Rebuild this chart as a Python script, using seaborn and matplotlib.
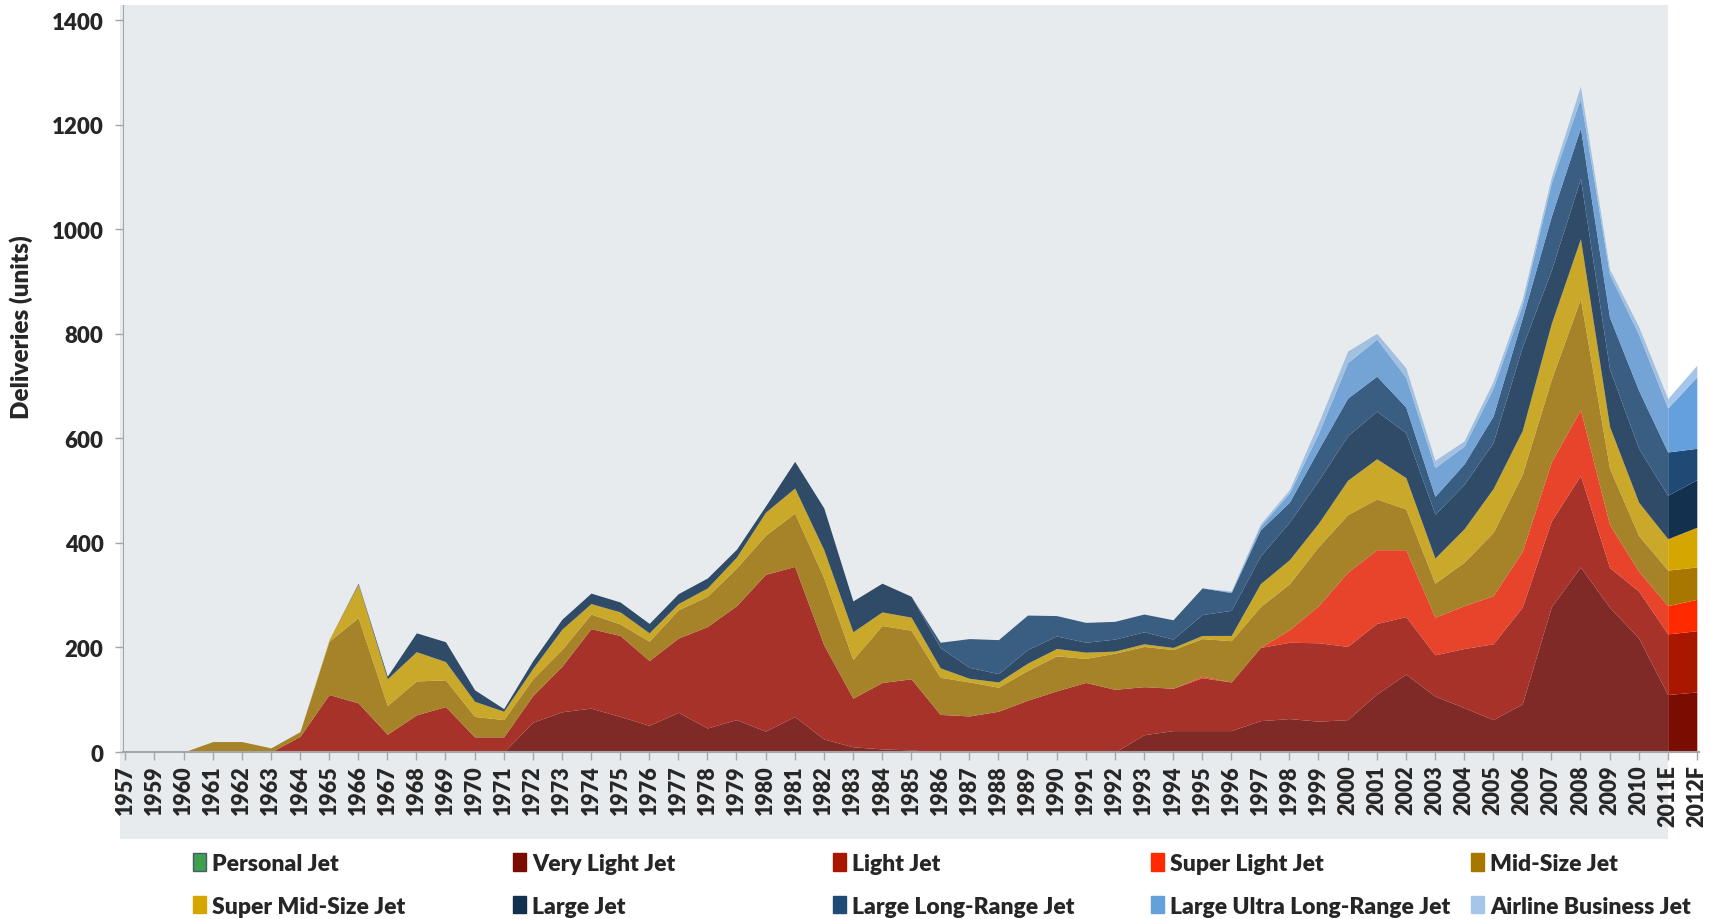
import numpy as np
import matplotlib
matplotlib.use("Agg")
import matplotlib.pyplot as plt
import matplotlib.transforms as mtransforms
from matplotlib.patches import Patch, Rectangle
import seaborn as sns

# --- Data (units delivered per year) ---
years = ["1957"] + [str(y) for y in range(1959, 2011)] + ["2011E", "2012F"]

personal = [0] * 55
very_light = ([0] * 14
              + [57, 77, 84, 68, 51, 76, 46, 62, 40, 68, 25, 10, 6, 4]
              + [0] * 7
              + [33, 41, 41, 41, 60, 64, 59, 62, 111, 149, 107, 85, 62, 92, 278, 354, 277, 218]
              + [110, 115])
light = ([0] * 6
         + [30, 110, 94, 34, 71, 87, 29, 29]
         + [51, 87, 152, 155, 124, 142, 194, 218, 300, 287, 180, 93, 127, 136]
         + [72, 69, 78, 99, 117, 133, 120]
         + [92, 81, 101, 93, 140, 146, 150, 140, 135, 110, 79, 113, 145, 185, 164, 175, 76, 90]
         + [116, 117])
super_light = ([0] * 37
               + [3, 0, 0, 24, 71, 142, 141, 128, 72, 82, 92, 107, 113, 126, 82, 38]
               + [54, 60])
mid_size = ([0, 0, 0]
            + [20, 20, 8, 9, 102, 163, 55, 65, 51, 39, 33]
            + [32, 32, 28, 22, 37, 54, 58, 72, 75, 102, 128, 74, 109, 93]
            + [71, 65, 46, 57, 67, 46, 69]
            + [77, 74, 72, 79, 78, 88, 113, 110, 97, 78, 65, 83, 121, 147, 158, 212, 108, 68]
            + [68, 62])
super_mid = ([0] * 7
             + [3, 64, 51, 56, 35, 29, 16]
             + [20, 39, 20, 23, 16, 12, 16, 21, 44, 48, 54, 53, 26, 25]
             + [18, 7, 10, 14, 14, 12, 4]
             + [5, 4, 6, 10, 44, 46, 45, 66, 77, 60, 48, 64, 84, 84, 107, 115, 80, 64]
             + [60, 76])
large = ([2, 2, 0, 0, 0, 0, 0, 0, 2, 5, 36, 38, 22, 5]
         + [15, 19, 20, 19, 18, 19, 19, 15, 12, 51, 80, 59, 55, 40]
         + [39, 21, 16, 26, 24, 19, 23]
         + [23, 16, 40, 48, 53, 72, 82, 85, 91, 86, 84, 85, 88, 160, 102, 115, 110, 103]
         + [83, 91])
long_range = ([0] * 28
              + [10, 55, 65, 66, 39, 38, 34]
              + [34, 37, 51, 34, 50, 38, 59, 72, 67, 49, 34, 39, 51, 55, 103, 97, 99, 111]
              + [83, 60])
ultra_long = ([0] * 38
              + [2, 7, 18, 31, 68, 71, 57, 55, 34, 53, 25, 64, 57, 82, 107]
              + [84, 137])
airline = ([0] * 38
           + [1, 4, 6, 20, 22, 11, 18, 14, 10, 13, 11, 11, 23, 10, 15]
           + [18, 22])

labels = ["Personal Jet", "Very Light Jet", "Light Jet", "Super Light Jet", "Mid-Size Jet",
          "Super Mid-Size Jet", "Large Jet", "Large Long-Range Jet",
          "Large Ultra Long-Range Jet", "Airline Business Jet"]
series = [personal, very_light, light, super_light, mid_size,
          super_mid, large, long_range, ultra_long, airline]

# muted tones for history, strong tones for the forecast years / legend
hist_colors = ["#3aa04a", "#7f2a27", "#a6322a", "#e8432b", "#a68228",
               "#c9a82a", "#2f4b68", "#3a5d82", "#73a4d5", "#a2c1e0"]
fcst_colors = ["#3ca04c", "#7a0c02", "#aa1700", "#ff2a00", "#a87700",
               "#d5a600", "#14304f", "#1f4a75", "#64a1dc", "#a5c5e9"]

# --- Style ---
sns.set_style("ticks")
plt.rcParams["font.family"] = ["Lato", "DejaVu Sans"]
W = "heavy"

fig = plt.figure(figsize=(17.11, 9.2), dpi=100)
ax = fig.add_axes([0.0719, 0.1815, 0.921, 0.8125])

x = np.arange(len(years))
n_hist = years.index("2011E") + 1

ax.stackplot(x[:n_hist], [s[:n_hist] for s in series], colors=hist_colors,
             linewidth=0, zorder=2)
ax.stackplot(x[n_hist - 1:], [s[n_hist - 1:] for s in series], colors=fcst_colors,
             linewidth=0, zorder=2)

x_left, x_right = -0.08, 54.07
ax.set_xlim(x_left, x_right)
ax.set_ylim(0, 1430)

# grey panel behind the history years, running down behind the tick labels
trans = mtransforms.blended_transform_factory(ax.transData, ax.transAxes)
ax.add_patch(Rectangle((x_left - 0.1, -0.117), (n_hist - 1) - x_left + 0.1, 1.117,
                       transform=trans, facecolor="#e8ebee", edgecolor="none",
                       zorder=0, clip_on=False))

ax.set_xticks(x)
ax.set_xticklabels(years, rotation=90, fontsize=15.5, fontweight=W)
ax.set_yticks(range(0, 1401, 200))
ax.set_yticklabels([str(v) for v in range(0, 1401, 200)], fontsize=16, fontweight=W)
ax.tick_params(axis="both", direction="out", color="#a6a6a6", length=6, width=1)
ax.tick_params(axis="x", pad=3)
ax.tick_params(axis="y", pad=8)

sns.despine(ax=ax)
ax.spines["left"].set_color("#a6a6a6")
ax.spines["bottom"].set_color("#a6a6a6")
ax.spines["bottom"].set_linewidth(1.5)

ax.set_ylabel("Deliveries (units)", fontsize=17.5, fontweight=W)
ax.yaxis.set_label_coords(-0.057, 0.57)

# --- Legend: five columns, two rows ---
handles = [Patch(facecolor=c, edgecolor=("#4a5a6a" if i == 0 else c), linewidth=1)
           for i, c in enumerate(fcst_colors)]
col_x = [0.1128, 0.2998, 0.4868, 0.6727, 0.8597]
for j, lx in enumerate(col_x):
    fig.legend(handles=[handles[j], handles[j + 5]], labels=[labels[j], labels[j + 5]],
               loc="upper left", bbox_to_anchor=(lx, 0.072), frameon=False,
               prop={"weight": W, "size": 16.5}, handlelength=0.55, handleheight=0.8,
               handletextpad=0.3, labelspacing=0.95, borderpad=0, borderaxespad=0)

fig.savefig("out.png", dpi=100)
